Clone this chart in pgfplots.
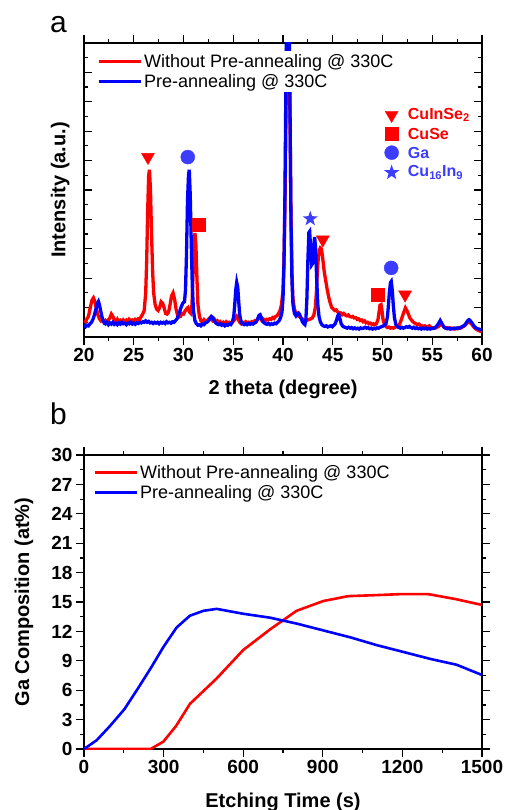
\documentclass[border=0pt]{standalone}
\usepackage{pgfplots}
\pgfplotsset{compat=1.18}
\usetikzlibrary{plotmarks}
\usepackage{fontspec}
\setmainfont{Liberation Sans}

\definecolor{xred}{RGB}{255,0,0}
\definecolor{xblue}{RGB}{0,0,255}
\definecolor{mblue}{RGB}{60,60,255}

% filled five-pointed star
\pgfdeclareplotmark{fstar}{%
  \pgfpathmoveto{\pgfpointpolar{90}{\pgfplotmarksize}}%
  \pgfpathlineto{\pgfpointpolar{126}{0.4\pgfplotmarksize}}%
  \pgfpathlineto{\pgfpointpolar{162}{\pgfplotmarksize}}%
  \pgfpathlineto{\pgfpointpolar{198}{0.4\pgfplotmarksize}}%
  \pgfpathlineto{\pgfpointpolar{234}{\pgfplotmarksize}}%
  \pgfpathlineto{\pgfpointpolar{270}{0.4\pgfplotmarksize}}%
  \pgfpathlineto{\pgfpointpolar{306}{\pgfplotmarksize}}%
  \pgfpathlineto{\pgfpointpolar{342}{0.4\pgfplotmarksize}}%
  \pgfpathlineto{\pgfpointpolar{18}{\pgfplotmarksize}}%
  \pgfpathlineto{\pgfpointpolar{54}{0.4\pgfplotmarksize}}%
  \pgfpathclose\pgfusepathqfill}

\pgfplotsset{
  common/.style={
    scale only axis, width=398pt, height=294pt,
    clip mode=individual,
    axis line style={line width=1.4pt},
    tick style={black, line width=1.2pt},
    major tick length=8pt, minor tick length=4pt,
    tick label style={font=\bfseries\fontsize{19}{19}\selectfont},
    label style={font=\bfseries\fontsize{20}{20}\selectfont},
    /pgf/number format/assume math mode=true,
    /pgf/number format/1000 sep={},
    legend cell align=left,
    legend image code/.code={\draw[##1,line width=3pt] (0pt,0pt) -- (42pt,0pt);},
  },
}

\begin{document}
\begin{tikzpicture}
\useasboundingbox (-84pt,-473pt) rectangle (420pt,337pt);

% ---- panel a: XRD ----
\begin{axis}[common,
  at={(0pt,0pt)}, anchor=south west,
  xmin=20, xmax=60, ymin=0, ymax=10,
  xtick={20,25,...,60}, minor x tick num=1,
  ytick={0,1,...,10}, minor y tick num=1, yticklabels={},
  xtick align=outside, ytick align=inside,
  xlabel={2 theta (degree)}, ylabel={Intensity (a.u.)},
  xlabel style={at={(axis description cs:0.5,-0.178)}, anchor=center},
  ylabel style={at={(axis description cs:-0.06,0.5)}, anchor=center},
  legend style={at={(axis description cs:0.03,0.972)}, anchor=north west,
    draw=none, fill=white, inner sep=1pt, row sep=1.5pt,
    font=\fontsize{18}{21}\selectfont},
]
\addplot[xred, line width=3.3pt] coordinates {
(20.0,0.58) (20.15,0.52) (20.3,0.62) (20.45,0.7) (20.6,0.95) (20.8,1.25) (20.95,1.33)
(21.1,1.2) (21.25,0.95) (21.4,0.75) (21.55,0.62) (21.7,0.55) (21.85,0.6) (22.0,0.5)
(22.15,0.56) (22.3,0.5) (22.45,0.58) (22.6,0.65) (22.75,0.78) (22.9,0.7) (23.05,0.58)
(23.2,0.52) (23.35,0.6) (23.5,0.5) (23.65,0.56) (23.8,0.5) (23.95,0.58) (24.1,0.52)
(24.25,0.57) (24.4,0.5) (24.55,0.6) (24.7,0.55) (24.85,0.58) (25.0,0.52) (25.15,0.6)
(25.3,0.57) (25.45,0.62) (25.6,0.6) (25.75,0.7) (25.9,0.78) (26.05,0.9) (26.2,1.5)
(26.3,2.6) (26.4,4.3) (26.5,5.5) (26.58,5.69) (26.68,5.0) (26.78,3.6) (26.9,2.2)
(27.0,1.5) (27.15,1.1) (27.3,0.95) (27.45,0.9) (27.6,1.0) (27.75,1.2) (27.9,1.15)
(28.05,1.0) (28.2,0.8) (28.35,0.78) (28.5,0.85) (28.65,1.1) (28.8,1.4) (28.95,1.5)
(29.1,1.3) (29.25,0.95) (29.4,0.75) (29.55,0.68) (29.7,0.7) (29.85,0.8) (30.0,0.78)
(30.15,0.88) (30.3,0.95) (30.45,1.0) (30.6,0.85) (30.75,0.8) (30.85,1.1) (30.95,2.0)
(31.05,3.0) (31.15,3.54) (31.25,3.1) (31.35,2.0) (31.45,1.1) (31.6,0.7) (31.75,0.55)
(31.9,0.5) (32.05,0.58) (32.2,0.5) (32.35,0.55) (32.5,0.6) (32.65,0.65) (32.8,0.6)
(32.95,0.55) (33.1,0.6) (33.25,0.5) (33.4,0.55) (33.55,0.48) (33.7,0.52) (33.85,0.46)
(34.0,0.5) (34.15,0.45) (34.3,0.52) (34.45,0.48) (34.6,0.5) (34.75,0.46) (34.9,0.52)
(35.05,0.55) (35.2,0.62) (35.35,0.7) (35.5,0.6) (35.65,0.5) (35.8,0.45) (35.95,0.5)
(36.1,0.47) (36.25,0.52) (36.4,0.48) (36.55,0.5) (36.7,0.46) (36.85,0.52) (37.0,0.5)
(37.15,0.55) (37.3,0.52) (37.45,0.6) (37.6,0.65) (37.75,0.62) (37.9,0.55) (38.05,0.6)
(38.2,0.55) (38.35,0.6) (38.5,0.58) (38.65,0.62) (38.8,0.6) (38.95,0.66) (39.1,0.63)
(39.25,0.7) (39.4,0.72) (39.55,0.8) (39.7,0.9) (39.85,1.1) (40.0,1.6) (40.1,2.6)
(40.2,4.5) (40.3,7.5) (40.4,11) (40.5,12) (40.6,11) (40.7,7.5) (40.8,4.2) (40.9,2.2)
(41.0,1.3) (41.15,0.95) (41.3,0.8) (41.45,0.75) (41.6,0.7) (41.75,0.68) (41.9,0.62)
(42.05,0.6) (42.2,0.58) (42.35,0.56) (42.5,0.58) (42.65,0.6) (42.8,0.62) (42.95,0.65)
(43.1,0.75) (43.25,1.0) (43.35,1.5) (43.45,2.2) (43.55,2.7) (43.65,2.95) (43.75,3.03)
(43.85,3.0) (43.95,2.8) (44.05,2.5) (44.15,2.2) (44.3,1.9) (44.45,1.6) (44.6,1.35)
(44.75,1.15) (44.9,1.0) (45.05,0.95) (45.2,0.9) (45.35,0.92) (45.5,0.85) (45.65,0.8)
(45.8,0.82) (45.95,0.76) (46.1,0.8) (46.25,0.75) (46.4,0.72) (46.55,0.75) (46.7,0.7)
(46.85,0.68) (47.0,0.7) (47.15,0.65) (47.3,0.66) (47.45,0.6) (47.6,0.62) (47.75,0.56)
(47.9,0.58) (48.05,0.52) (48.2,0.55) (48.35,0.48) (48.5,0.5) (48.65,0.45) (48.8,0.47)
(48.95,0.42) (49.1,0.45) (49.25,0.42) (49.4,0.46) (49.55,0.6) (49.65,0.85) (49.75,1.08)
(49.85,1.1) (49.95,0.9) (50.05,0.6) (50.2,0.42) (50.35,0.36) (50.5,0.32) (50.65,0.34)
(50.8,0.3) (50.95,0.32) (51.1,0.3) (51.25,0.33) (51.4,0.35) (51.55,0.38) (51.7,0.42)
(51.85,0.55) (52.0,0.7) (52.15,0.85) (52.3,0.99) (52.45,0.9) (52.6,0.78) (52.75,0.65)
(52.9,0.58) (53.05,0.52) (53.2,0.48) (53.35,0.45) (53.5,0.42) (53.65,0.44) (53.8,0.4)
(53.95,0.38) (54.1,0.36) (54.25,0.38) (54.4,0.34) (54.55,0.36) (54.7,0.38) (54.85,0.33)
(55.0,0.3) (55.15,0.32) (55.3,0.3) (55.45,0.33) (55.6,0.35) (55.75,0.4) (55.9,0.45)
(56.05,0.4) (56.2,0.33) (56.35,0.3) (56.5,0.32) (56.65,0.29) (56.8,0.31) (56.95,0.28)
(57.1,0.3) (57.25,0.27) (57.4,0.3) (57.55,0.28) (57.7,0.31) (57.85,0.3) (58.0,0.33)
(58.15,0.36) (58.3,0.4) (58.45,0.45) (58.6,0.52) (58.75,0.5) (58.9,0.46) (59.05,0.4)
(59.2,0.33) (59.35,0.28) (59.5,0.25) (59.65,0.22) (59.8,0.2) (60.0,0.18)
};
\addlegendentry{Without Pre-annealing @ 330C}
\addplot[xblue, line width=3.3pt] coordinates {
(20.0,0.42) (20.15,0.35) (20.3,0.4) (20.45,0.38) (20.6,0.45) (20.75,0.5) (20.9,0.6)
(21.05,0.75) (21.2,0.95) (21.35,1.15) (21.45,1.21) (21.55,1.1) (21.7,0.85) (21.85,0.62)
(22.0,0.5) (22.15,0.45) (22.3,0.5) (22.45,0.42) (22.6,0.48) (22.75,0.44) (22.9,0.5)
(23.05,0.43) (23.2,0.47) (23.35,0.42) (23.5,0.48) (23.65,0.44) (23.8,0.5) (23.95,0.45)
(24.1,0.47) (24.25,0.42) (24.4,0.48) (24.55,0.45) (24.7,0.5) (24.85,0.44) (25.0,0.47)
(25.15,0.43) (25.3,0.48) (25.45,0.46) (25.6,0.5) (25.75,0.48) (25.9,0.52) (26.05,0.5)
(26.2,0.55) (26.35,0.5) (26.5,0.53) (26.65,0.48) (26.8,0.5) (26.95,0.46) (27.1,0.5)
(27.25,0.47) (27.4,0.5) (27.55,0.45) (27.7,0.5) (27.85,0.47) (28.0,0.5) (28.15,0.46)
(28.3,0.52) (28.45,0.48) (28.6,0.5) (28.75,0.47) (28.9,0.52) (29.05,0.5) (29.2,0.56)
(29.35,0.62) (29.5,0.75) (29.65,0.9) (29.8,1.05) (29.95,1.16) (30.1,1.2) (30.2,1.6)
(30.3,2.8) (30.4,4.6) (30.5,5.5) (30.58,5.69) (30.68,4.8) (30.78,3.2) (30.88,1.8)
(31.0,0.9) (31.15,0.55) (31.3,0.45) (31.45,0.4) (31.6,0.42) (31.75,0.38) (31.9,0.44)
(32.05,0.42) (32.2,0.48) (32.35,0.5) (32.5,0.55) (32.65,0.62) (32.8,0.7) (32.95,0.66)
(33.1,0.55) (33.25,0.48) (33.4,0.44) (33.55,0.42) (33.7,0.45) (33.85,0.4) (34.0,0.43)
(34.15,0.38) (34.3,0.42) (34.45,0.4) (34.6,0.44) (34.75,0.42) (34.9,0.5) (35.05,0.7)
(35.15,1.1) (35.25,1.6) (35.35,1.86) (35.45,1.7) (35.55,1.2) (35.65,0.75) (35.8,0.5)
(35.95,0.45) (36.1,0.42) (36.25,0.45) (36.4,0.42) (36.55,0.46) (36.7,0.43) (36.85,0.46)
(37.0,0.44) (37.15,0.48) (37.3,0.52) (37.45,0.62) (37.6,0.74) (37.7,0.76) (37.8,0.68)
(37.95,0.55) (38.1,0.48) (38.25,0.45) (38.4,0.43) (38.55,0.46) (38.7,0.42) (38.85,0.45)
(39.0,0.43) (39.15,0.47) (39.3,0.45) (39.45,0.5) (39.6,0.55) (39.75,0.65) (39.9,0.85)
(40.0,1.3) (40.1,2.5) (40.2,5) (40.3,9) (40.4,12) (40.5,12) (40.6,12) (40.7,8) (40.8,4)
(40.9,1.9) (41.0,1.1) (41.15,0.8) (41.3,0.72) (41.45,0.8) (41.55,0.82) (41.65,0.78)
(41.8,0.65) (41.95,0.52) (42.1,0.45) (42.2,0.42) (42.3,0.6) (42.4,1.3) (42.5,2.6)
(42.6,3.55) (42.68,3.59) (42.78,3.0) (42.88,2.45) (42.98,2.5) (43.08,3.1) (43.18,3.4)
(43.28,3.0) (43.38,2.0) (43.5,1.1) (43.62,0.7) (43.75,0.52) (43.9,0.42) (44.05,0.38)
(44.2,0.36) (44.35,0.38) (44.5,0.34) (44.65,0.36) (44.8,0.38) (44.95,0.35) (45.1,0.4)
(45.25,0.45) (45.4,0.6) (45.5,0.72) (45.6,0.76) (45.7,0.65) (45.85,0.45) (46.0,0.37)
(46.15,0.34) (46.3,0.32) (46.45,0.3) (46.6,0.33) (46.75,0.3) (46.9,0.32) (47.05,0.28)
(47.2,0.31) (47.35,0.28) (47.5,0.3) (47.65,0.27) (47.8,0.31) (47.95,0.29) (48.1,0.3)
(48.25,0.33) (48.4,0.3) (48.55,0.32) (48.7,0.28) (48.85,0.3) (49.0,0.27) (49.15,0.3)
(49.3,0.28) (49.45,0.31) (49.6,0.3) (49.75,0.33) (49.9,0.35) (50.05,0.37) (50.2,0.4)
(50.35,0.45) (50.5,0.7) (50.6,1.1) (50.7,1.55) (50.8,1.85) (50.88,1.89) (50.98,1.6)
(51.08,1.1) (51.2,0.65) (51.35,0.42) (51.5,0.35) (51.65,0.32) (51.8,0.3) (51.95,0.33)
(52.1,0.3) (52.25,0.32) (52.4,0.35) (52.55,0.33) (52.7,0.36) (52.85,0.32) (53.0,0.3)
(53.15,0.33) (53.3,0.29) (53.45,0.31) (53.6,0.28) (53.75,0.3) (53.9,0.27) (54.05,0.3)
(54.2,0.28) (54.35,0.31) (54.5,0.27) (54.65,0.29) (54.8,0.27) (54.95,0.3) (55.1,0.29)
(55.25,0.32) (55.4,0.35) (55.55,0.42) (55.7,0.5) (55.8,0.56) (55.9,0.5) (56.05,0.4)
(56.2,0.33) (56.35,0.3) (56.5,0.28) (56.65,0.3) (56.8,0.27) (56.95,0.29) (57.1,0.28)
(57.25,0.3) (57.4,0.29) (57.55,0.31) (57.7,0.3) (57.85,0.33) (58.0,0.35) (58.15,0.38)
(58.3,0.42) (58.45,0.5) (58.6,0.57) (58.7,0.59) (58.8,0.56) (58.95,0.5) (59.1,0.42)
(59.25,0.35) (59.4,0.31) (59.55,0.28) (59.7,0.27) (59.85,0.25) (60.0,0.25)
};
\addlegendentry{Pre-annealing @ 330C}
% phase markers
\addplot[forget plot, only marks, mark=triangle*, mark size=7.5pt, xred,
  mark options={rotate=180}] coordinates {(26.43,6.12) (44.0,3.31) (52.27,1.44) (50.92,7.55)};
\addplot[forget plot, only marks, mark=square*, mark size=6.5pt, xred]
  coordinates {(31.57,3.82) (49.53,1.44) (50.92,6.92)};
\addplot[forget plot, only marks, mark=*, mark size=7pt, mblue]
  coordinates {(30.43,6.12) (50.87,2.35) (50.92,6.27)};
\addplot[forget plot, only marks, mark=fstar, mark size=8pt, mblue]
  coordinates {(42.74,4.02) (50.92,5.59)};
\node[anchor=west, text=xred, font=\bfseries\fontsize{16}{16}\selectfont] at (axis cs:52.2,7.55) {CuInSe\textsubscript{2}};
\node[anchor=west, text=xred, font=\bfseries\fontsize{16}{16}\selectfont] at (axis cs:52.2,6.92) {CuSe};
\node[anchor=west, text=mblue, font=\bfseries\fontsize{16}{16}\selectfont] at (axis cs:52.2,6.27) {Ga};
\node[anchor=west, text=mblue, font=\bfseries\fontsize{16}{16}\selectfont] at (axis cs:52.2,5.59) {Cu\textsubscript{16}In\textsubscript{9}};
\node[font=\fontsize{30}{30}\selectfont] at (axis description cs:-0.064,1.061) {a};
\end{axis}

% ---- panel b: Ga depth profile ----
\begin{axis}[common,
  at={(0pt,-412pt)}, anchor=south west,
  xmin=0, xmax=1500, ymin=0, ymax=30,
  xtick={0,300,...,1500}, minor x tick num=1,
  ytick={0,3,...,30}, minor y tick num=1,
  tick align=outside,
  xlabel={Etching Time (s)}, ylabel={Ga Composition (at\%)},
  xlabel style={at={(axis description cs:0.5,-0.18)}, anchor=center},
  ylabel style={at={(axis description cs:-0.151,0.5)}, anchor=center},
  legend style={at={(axis description cs:0.02,0.976)}, anchor=north west,
    draw=none, fill=white, inner sep=1pt, row sep=1.5pt,
    font=\fontsize{18}{21}\selectfont},
]
\addplot[xred, line width=2.6pt] coordinates {
(0,0) (251,0) (299,0.75) (347,2.35) (399,4.6) (500,7.2) (600,10.1) (701,12.2)
(801,14.1) (902,15.1) (996,15.6) (1100,15.7) (1191,15.8) (1298,15.8) (1400,15.3) (1500,14.7)
};
\addlegendentry{Without Pre-annealing @ 330C}
\addplot[xblue, line width=2.6pt] coordinates {
(0,0) (48,0.9) (98,2.35) (152,4.05) (205,6.25) (255,8.4) (299,10.4) (349,12.4)
(399,13.6) (450,14.1) (500,14.3) (600,13.8) (701,13.4) (801,12.8) (902,12.1)
(1003,11.4) (1103,10.6) (1204,9.9) (1304,9.2) (1404,8.6) (1500,7.55)
};
\addlegendentry{Pre-annealing @ 330C}
\node[font=\fontsize{30}{30}\selectfont] at (axis description cs:-0.064,1.14) {b};
\end{axis}
\end{tikzpicture}
\end{document}
